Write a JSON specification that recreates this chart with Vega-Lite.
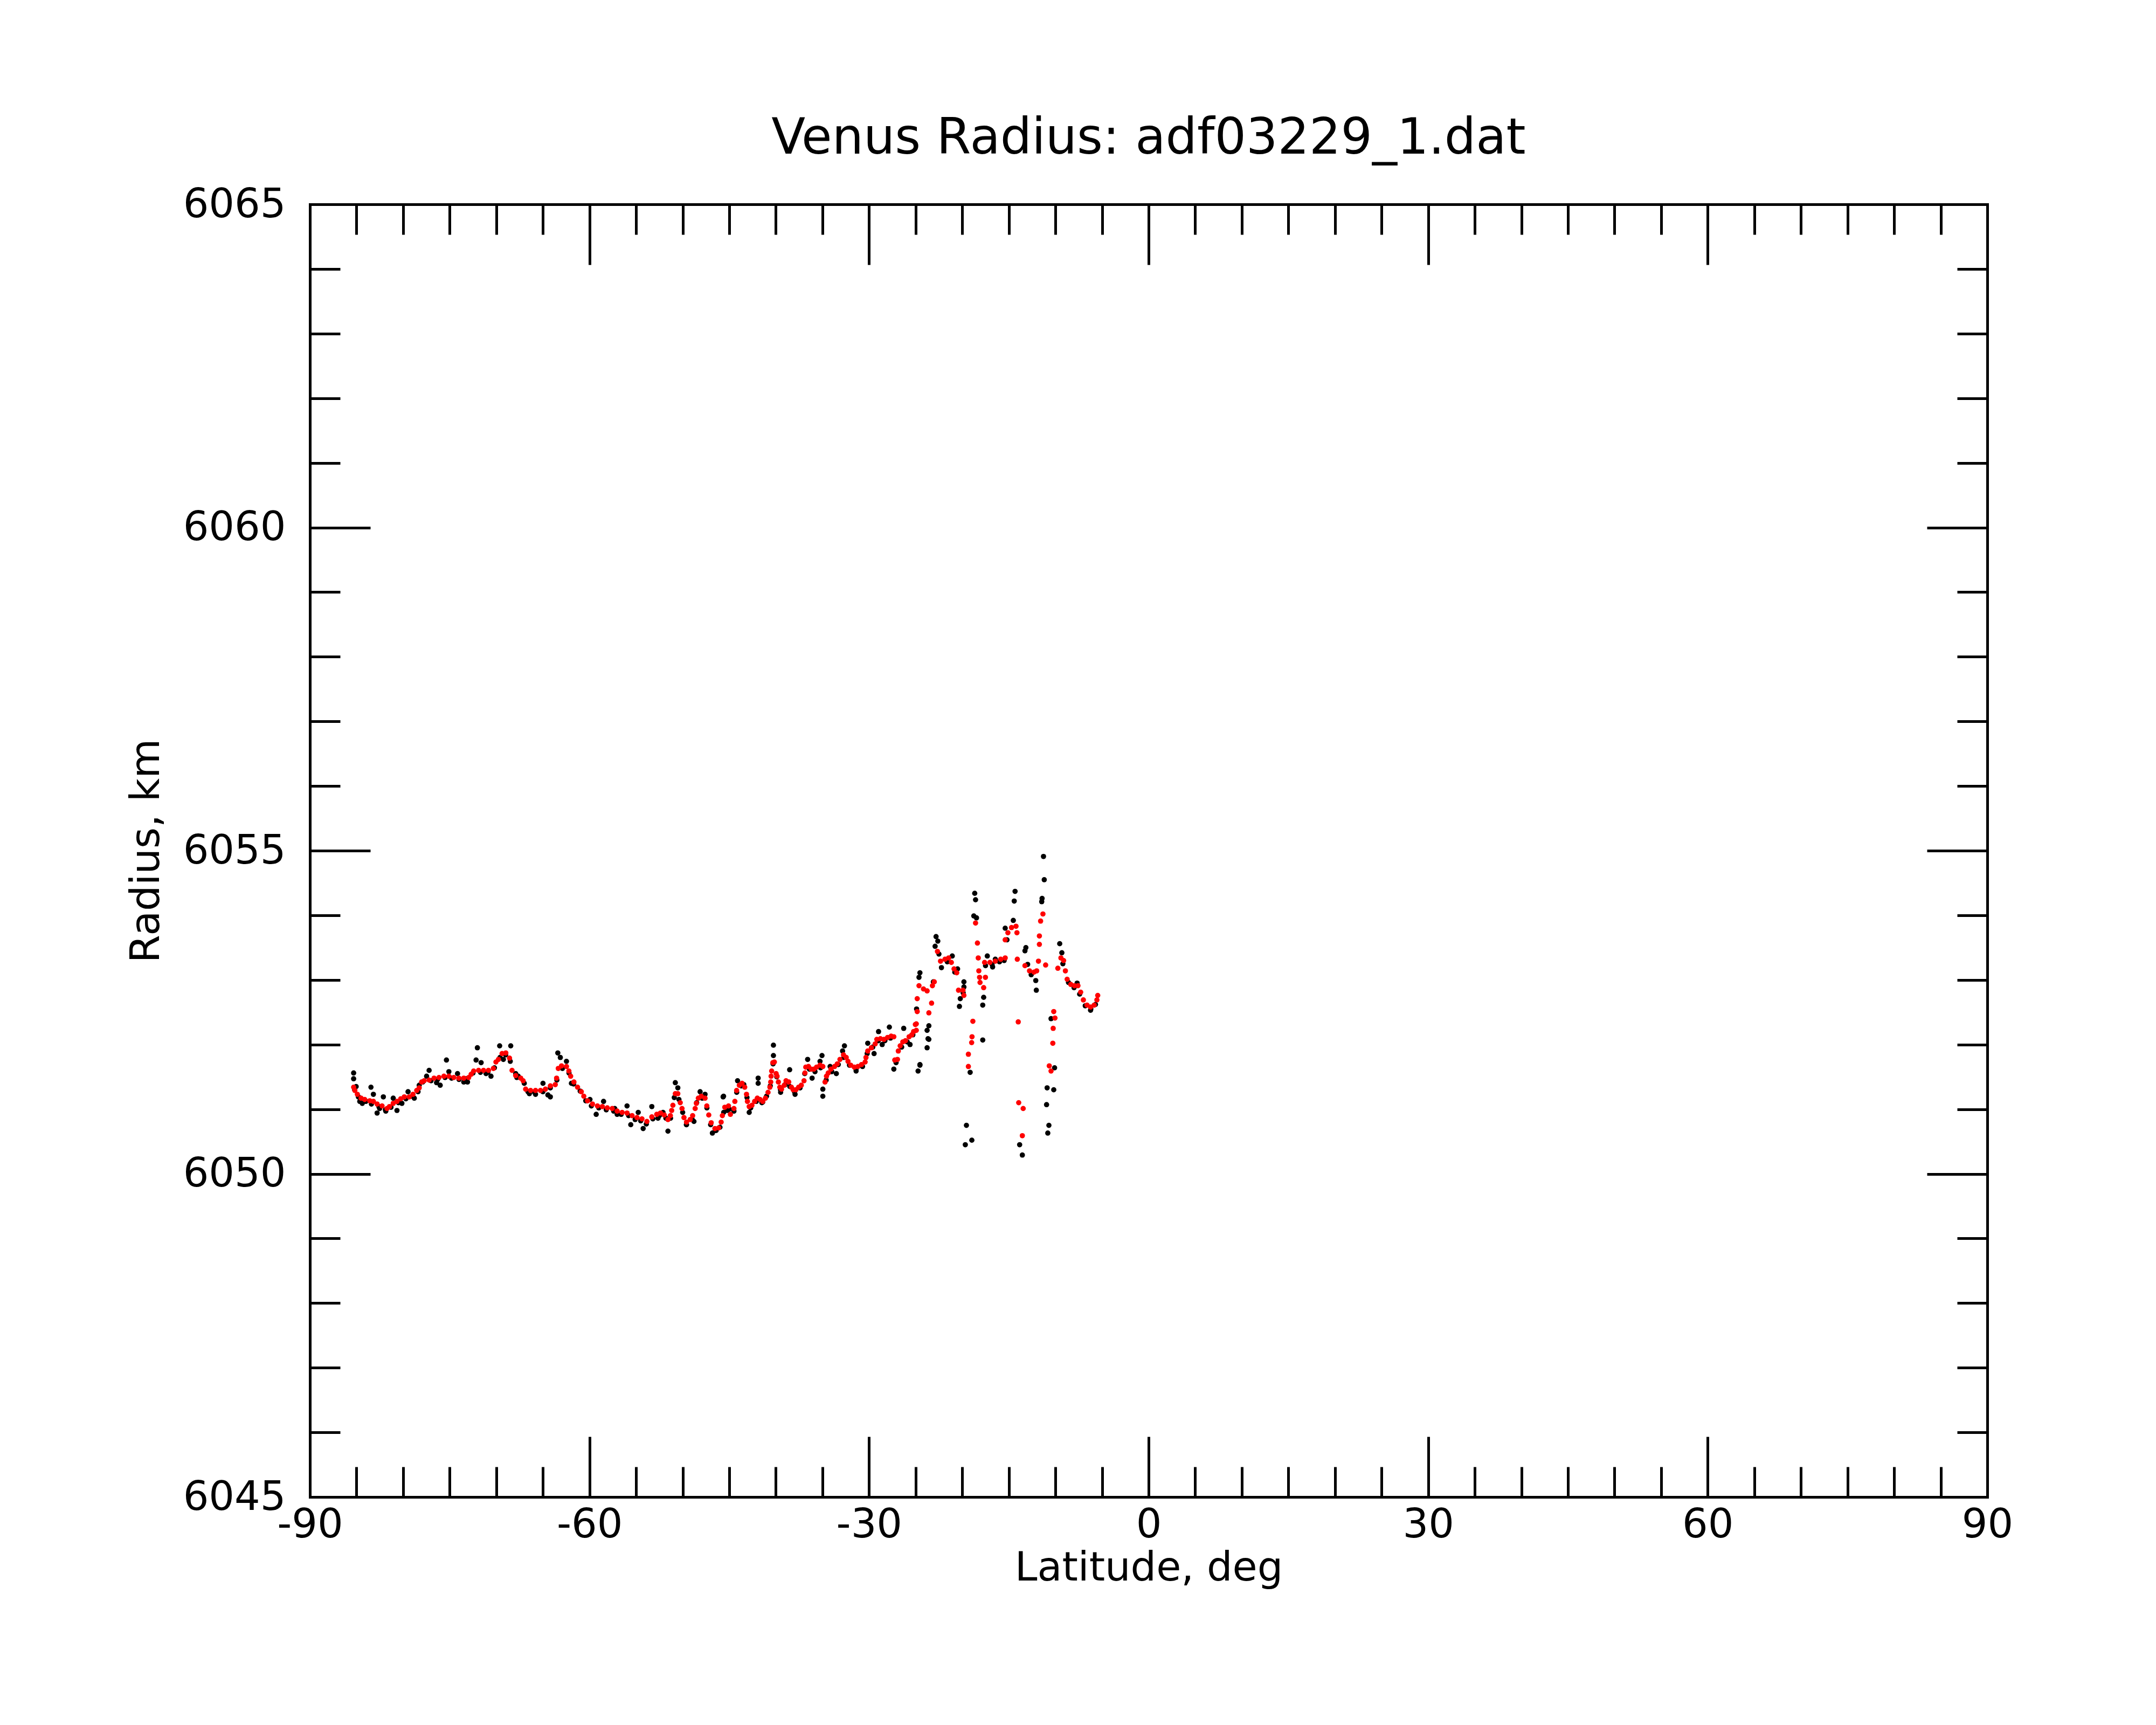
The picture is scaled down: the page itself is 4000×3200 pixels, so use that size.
{
  "$schema": "https://vega.github.io/schema/vega-lite/v6.json",
  "width": 3112,
  "height": 2398,
  "autosize": {"type": "none"},
  "padding": {"left": 575, "top": 379, "right": 313, "bottom": 423},
  "background": "white",
  "title": {
    "text": "Venus Radius: adf03229_1.dat",
    "font": "DejaVu Sans",
    "fontSize": 92,
    "fontWeight": "normal",
    "color": "black",
    "anchor": "middle",
    "baseline": "alphabetic",
    "offset": -35
  },
  "datasets": {
    "black": [
      {"lat": -85.31, "r": 6051.56}, {"lat": -85.31, "r": 6051.47}, {"lat": -85.2, "r": 6051.30}, {"lat": -85.04, "r": 6051.35},
      {"lat": -84.8, "r": 6051.19}, {"lat": -84.65, "r": 6051.12}, {"lat": -84.38, "r": 6051.09}, {"lat": -84.0, "r": 6051.12},
      {"lat": -83.45, "r": 6051.34}, {"lat": -83.4, "r": 6051.08}, {"lat": -83.19, "r": 6051.23}, {"lat": -82.79, "r": 6050.94},
      {"lat": -82.6, "r": 6051.04}, {"lat": -82.52, "r": 6051.01}, {"lat": -82.12, "r": 6051.19}, {"lat": -81.9, "r": 6050.99},
      {"lat": -81.86, "r": 6050.97}, {"lat": -81.3, "r": 6051.03}, {"lat": -81.06, "r": 6051.17}, {"lat": -80.66, "r": 6050.98},
      {"lat": -80.5, "r": 6051.10}, {"lat": -80.13, "r": 6051.09}, {"lat": -79.7, "r": 6051.16}, {"lat": -79.47, "r": 6051.27},
      {"lat": -79.0, "r": 6051.20}, {"lat": -78.8, "r": 6051.17}, {"lat": -78.4, "r": 6051.27}, {"lat": -78.27, "r": 6051.37},
      {"lat": -77.9, "r": 6051.42}, {"lat": -77.48, "r": 6051.51}, {"lat": -77.21, "r": 6051.60}, {"lat": -77.0, "r": 6051.44},
      {"lat": -76.41, "r": 6051.41}, {"lat": -76.3, "r": 6051.46}, {"lat": -76.02, "r": 6051.37}, {"lat": -75.5, "r": 6051.49},
      {"lat": -75.35, "r": 6051.76}, {"lat": -75.09, "r": 6051.58}, {"lat": -74.8, "r": 6051.48}, {"lat": -74.16, "r": 6051.55},
      {"lat": -74.0, "r": 6051.46}, {"lat": -73.49, "r": 6051.42}, {"lat": -73.2, "r": 6051.47}, {"lat": -73.09, "r": 6051.42},
      {"lat": -72.5, "r": 6051.56}, {"lat": -72.17, "r": 6051.76}, {"lat": -72.03, "r": 6051.95}, {"lat": -71.7, "r": 6051.57},
      {"lat": -71.63, "r": 6051.72}, {"lat": -71.1, "r": 6051.55}, {"lat": -70.9, "r": 6051.57}, {"lat": -70.57, "r": 6051.51},
      {"lat": -70.2, "r": 6051.64}, {"lat": -69.64, "r": 6051.98}, {"lat": -69.6, "r": 6051.80}, {"lat": -69.24, "r": 6051.77},
      {"lat": -69.0, "r": 6051.84}, {"lat": -68.5, "r": 6051.74}, {"lat": -68.45, "r": 6051.98}, {"lat": -67.92, "r": 6051.55},
      {"lat": -67.8, "r": 6051.49}, {"lat": -67.65, "r": 6051.51}, {"lat": -67.0, "r": 6051.40}, {"lat": -66.6, "r": 6051.27},
      {"lat": -66.45, "r": 6051.24}, {"lat": -65.9, "r": 6051.26}, {"lat": -65.79, "r": 6051.23}, {"lat": -65.0, "r": 6051.27},
      {"lat": -64.99, "r": 6051.40}, {"lat": -64.46, "r": 6051.22}, {"lat": -64.2, "r": 6051.19}, {"lat": -64.2, "r": 6051.33},
      {"lat": -63.5, "r": 6051.45}, {"lat": -63.4, "r": 6051.87}, {"lat": -63.13, "r": 6051.80}, {"lat": -62.9, "r": 6051.63},
      {"lat": -62.47, "r": 6051.74}, {"lat": -62.2, "r": 6051.56}, {"lat": -61.94, "r": 6051.40}, {"lat": -61.7, "r": 6051.39},
      {"lat": -61.0, "r": 6051.28}, {"lat": -60.4, "r": 6051.13}, {"lat": -59.95, "r": 6051.15}, {"lat": -59.8, "r": 6051.05},
      {"lat": -59.28, "r": 6050.92}, {"lat": -59.0, "r": 6051.02}, {"lat": -58.49, "r": 6051.12}, {"lat": -58.2, "r": 6050.99},
      {"lat": -57.4, "r": 6050.97}, {"lat": -57.29, "r": 6051.01}, {"lat": -57.03, "r": 6050.92}, {"lat": -56.6, "r": 6050.92},
      {"lat": -55.97, "r": 6051.05}, {"lat": -55.8, "r": 6050.90}, {"lat": -55.57, "r": 6050.76}, {"lat": -55.1, "r": 6050.84},
      {"lat": -54.77, "r": 6050.95}, {"lat": -54.5, "r": 6050.82}, {"lat": -54.24, "r": 6050.70}, {"lat": -53.9, "r": 6050.77},
      {"lat": -53.31, "r": 6051.04}, {"lat": -53.2, "r": 6050.85}, {"lat": -52.65, "r": 6050.86}, {"lat": -52.5, "r": 6050.90},
      {"lat": -52.11, "r": 6050.95}, {"lat": -51.8, "r": 6050.86}, {"lat": -51.58, "r": 6050.66}, {"lat": -51.3, "r": 6050.86},
      {"lat": -50.9, "r": 6051.18}, {"lat": -50.79, "r": 6051.41}, {"lat": -50.52, "r": 6051.33}, {"lat": -50.4, "r": 6051.15},
      {"lat": -50.0, "r": 6050.95}, {"lat": -49.6, "r": 6050.76}, {"lat": -49.59, "r": 6050.76}, {"lat": -49.0, "r": 6050.85},
      {"lat": -48.79, "r": 6050.81}, {"lat": -48.5, "r": 6051.10}, {"lat": -48.13, "r": 6051.27}, {"lat": -47.9, "r": 6051.17},
      {"lat": -47.6, "r": 6051.23}, {"lat": -47.4, "r": 6051.02}, {"lat": -47.0, "r": 6050.76}, {"lat": -46.81, "r": 6050.63},
      {"lat": -46.5, "r": 6050.67}, {"lat": -46.41, "r": 6050.67}, {"lat": -46.0, "r": 6050.72}, {"lat": -45.66, "r": 6051.19},
      {"lat": -45.61, "r": 6051.20}, {"lat": -45.6, "r": 6050.95}, {"lat": -45.21, "r": 6050.98}, {"lat": -45.0, "r": 6051.00},
      {"lat": -44.5, "r": 6050.97}, {"lat": -44.2, "r": 6051.26}, {"lat": -44.11, "r": 6051.44}, {"lat": -43.7, "r": 6051.36},
      {"lat": -43.44, "r": 6051.38}, {"lat": -43.1, "r": 6051.18}, {"lat": -42.86, "r": 6050.95}, {"lat": -42.7, "r": 6051.02},
      {"lat": -42.1, "r": 6051.12}, {"lat": -41.9, "r": 6051.48}, {"lat": -41.9, "r": 6051.40}, {"lat": -41.5, "r": 6051.10},
      {"lat": -41.41, "r": 6051.11}, {"lat": -41.0, "r": 6051.20}, {"lat": -40.6, "r": 6051.36}, {"lat": -40.3, "r": 6051.70},
      {"lat": -40.26, "r": 6051.99}, {"lat": -40.26, "r": 6051.83}, {"lat": -39.9, "r": 6051.50}, {"lat": -39.5, "r": 6051.30},
      {"lat": -39.49, "r": 6051.26}, {"lat": -39.0, "r": 6051.38}, {"lat": -38.52, "r": 6051.61}, {"lat": -38.5, "r": 6051.35},
      {"lat": -38.0, "r": 6051.27}, {"lat": -37.94, "r": 6051.23}, {"lat": -37.4, "r": 6051.33}, {"lat": -36.9, "r": 6051.55},
      {"lat": -36.59, "r": 6051.77}, {"lat": -36.4, "r": 6051.62}, {"lat": -36.11, "r": 6051.48}, {"lat": -35.8, "r": 6051.58},
      {"lat": -35.26, "r": 6051.74}, {"lat": -35.2, "r": 6051.64}, {"lat": -35.05, "r": 6051.83}, {"lat": -34.96, "r": 6051.31},
      {"lat": -34.96, "r": 6051.20}, {"lat": -34.6, "r": 6051.45}, {"lat": -34.18, "r": 6051.66}, {"lat": -34.0, "r": 6051.58},
      {"lat": -33.51, "r": 6051.55}, {"lat": -33.3, "r": 6051.69}, {"lat": -32.84, "r": 6051.90}, {"lat": -32.7, "r": 6051.80},
      {"lat": -32.64, "r": 6051.98}, {"lat": -32.1, "r": 6051.68}, {"lat": -31.4, "r": 6051.62}, {"lat": -31.39, "r": 6051.59},
      {"lat": -30.7, "r": 6051.66}, {"lat": -30.2, "r": 6051.86}, {"lat": -30.14, "r": 6052.02}, {"lat": -29.6, "r": 6051.96},
      {"lat": -29.46, "r": 6051.86}, {"lat": -29.0, "r": 6052.06}, {"lat": -28.98, "r": 6052.20}, {"lat": -28.59, "r": 6052.00},
      {"lat": -28.3, "r": 6052.06}, {"lat": -27.82, "r": 6052.27}, {"lat": -27.7, "r": 6052.10}, {"lat": -27.34, "r": 6051.62},
      {"lat": -27.1, "r": 6051.72}, {"lat": -26.5, "r": 6051.96}, {"lat": -26.28, "r": 6052.25}, {"lat": -25.9, "r": 6052.04},
      {"lat": -25.6, "r": 6052.00}, {"lat": -25.3, "r": 6052.15}, {"lat": -24.9, "r": 6052.55}, {"lat": -24.74, "r": 6051.59},
      {"lat": -24.54, "r": 6051.68}, {"lat": -24.54, "r": 6051.69}, {"lat": -24.64, "r": 6053.04}, {"lat": -24.54, "r": 6053.11},
      {"lat": -23.77, "r": 6052.22}, {"lat": -23.67, "r": 6052.09}, {"lat": -23.77, "r": 6051.95}, {"lat": -23.58, "r": 6052.29},
      {"lat": -23.58, "r": 6052.08}, {"lat": -23.1, "r": 6052.97}, {"lat": -22.91, "r": 6053.52}, {"lat": -22.81, "r": 6053.67},
      {"lat": -22.62, "r": 6053.60}, {"lat": -22.5, "r": 6053.40}, {"lat": -22.23, "r": 6053.19}, {"lat": -21.6, "r": 6053.28},
      {"lat": -21.07, "r": 6053.37}, {"lat": -20.8, "r": 6053.12}, {"lat": -20.5, "r": 6053.17}, {"lat": -20.3, "r": 6052.59},
      {"lat": -20.21, "r": 6052.71}, {"lat": -19.9, "r": 6052.80}, {"lat": -19.82, "r": 6052.97}, {"lat": -19.82, "r": 6052.89},
      {"lat": -19.67, "r": 6050.45}, {"lat": -19.55, "r": 6050.75}, {"lat": -19.15, "r": 6051.57}, {"lat": -18.97, "r": 6050.52},
      {"lat": -18.76, "r": 6053.99}, {"lat": -18.66, "r": 6054.34}, {"lat": -18.57, "r": 6054.24}, {"lat": -18.47, "r": 6053.96},
      {"lat": -17.8, "r": 6052.61}, {"lat": -17.8, "r": 6052.07}, {"lat": -17.7, "r": 6052.73}, {"lat": -17.5, "r": 6053.22},
      {"lat": -17.31, "r": 6053.37}, {"lat": -16.8, "r": 6053.24}, {"lat": -16.74, "r": 6053.20}, {"lat": -16.45, "r": 6053.32},
      {"lat": -16.0, "r": 6053.28}, {"lat": -15.5, "r": 6053.30}, {"lat": -15.39, "r": 6053.80}, {"lat": -15.2, "r": 6053.62},
      {"lat": -14.52, "r": 6053.92}, {"lat": -14.42, "r": 6054.22}, {"lat": -14.33, "r": 6054.37}, {"lat": -13.84, "r": 6050.45},
      {"lat": -13.55, "r": 6050.29}, {"lat": -13.27, "r": 6053.45}, {"lat": -13.17, "r": 6053.50}, {"lat": -12.98, "r": 6053.24},
      {"lat": -12.6, "r": 6053.08}, {"lat": -12.11, "r": 6052.99}, {"lat": -12.05, "r": 6052.84}, {"lat": -11.47, "r": 6054.21},
      {"lat": -11.43, "r": 6054.26}, {"lat": -11.28, "r": 6054.91}, {"lat": -11.2, "r": 6054.55}, {"lat": -10.95, "r": 6051.07},
      {"lat": -10.89, "r": 6051.33}, {"lat": -10.82, "r": 6050.63}, {"lat": -10.7, "r": 6050.75}, {"lat": -10.47, "r": 6052.40},
      {"lat": -10.18, "r": 6051.30}, {"lat": -10.09, "r": 6051.64}, {"lat": -9.54, "r": 6053.56}, {"lat": -9.31, "r": 6053.42},
      {"lat": -9.2, "r": 6053.25}, {"lat": -8.6, "r": 6052.96}, {"lat": -8.0, "r": 6052.88}, {"lat": -7.67, "r": 6052.95},
      {"lat": -7.4, "r": 6052.78}, {"lat": -6.8, "r": 6052.60}, {"lat": -6.23, "r": 6052.53}, {"lat": -6.2, "r": 6052.55},
      {"lat": -5.7, "r": 6052.62}
    ],
    "red": [
      {"lat": -85.31, "r": 6051.34}, {"lat": -85.18, "r": 6051.29}, {"lat": -84.91, "r": 6051.23}, {"lat": -84.51, "r": 6051.17},
      {"lat": -84.12, "r": 6051.15}, {"lat": -83.58, "r": 6051.13}, {"lat": -83.19, "r": 6051.12}, {"lat": -82.79, "r": 6051.08},
      {"lat": -82.26, "r": 6051.05}, {"lat": -81.73, "r": 6051.01}, {"lat": -81.46, "r": 6051.04}, {"lat": -81.06, "r": 6051.09},
      {"lat": -80.66, "r": 6051.12}, {"lat": -80.26, "r": 6051.16}, {"lat": -79.87, "r": 6051.19}, {"lat": -79.34, "r": 6051.19},
      {"lat": -78.94, "r": 6051.23}, {"lat": -78.54, "r": 6051.29}, {"lat": -78.27, "r": 6051.33}, {"lat": -78.01, "r": 6051.42},
      {"lat": -77.74, "r": 6051.44}, {"lat": -77.21, "r": 6051.45}, {"lat": -76.68, "r": 6051.48}, {"lat": -76.15, "r": 6051.49},
      {"lat": -75.62, "r": 6051.51}, {"lat": -75.09, "r": 6051.51}, {"lat": -74.56, "r": 6051.49}, {"lat": -74.02, "r": 6051.48},
      {"lat": -73.49, "r": 6051.48}, {"lat": -72.96, "r": 6051.49}, {"lat": -72.7, "r": 6051.54}, {"lat": -72.43, "r": 6051.59},
      {"lat": -71.9, "r": 6051.60}, {"lat": -71.37, "r": 6051.60}, {"lat": -70.84, "r": 6051.60}, {"lat": -70.31, "r": 6051.63},
      {"lat": -70.04, "r": 6051.73}, {"lat": -69.77, "r": 6051.77}, {"lat": -69.38, "r": 6051.86}, {"lat": -68.98, "r": 6051.87},
      {"lat": -68.58, "r": 6051.79}, {"lat": -68.31, "r": 6051.60}, {"lat": -67.92, "r": 6051.52}, {"lat": -67.38, "r": 6051.48},
      {"lat": -67.12, "r": 6051.44}, {"lat": -66.85, "r": 6051.31}, {"lat": -66.32, "r": 6051.29}, {"lat": -65.79, "r": 6051.29},
      {"lat": -65.26, "r": 6051.29}, {"lat": -64.73, "r": 6051.31}, {"lat": -64.2, "r": 6051.36}, {"lat": -63.67, "r": 6051.38},
      {"lat": -63.53, "r": 6051.48}, {"lat": -63.35, "r": 6051.63}, {"lat": -63.0, "r": 6051.67}, {"lat": -62.47, "r": 6051.66},
      {"lat": -62.21, "r": 6051.59}, {"lat": -62.02, "r": 6051.51}, {"lat": -61.67, "r": 6051.42}, {"lat": -61.28, "r": 6051.34},
      {"lat": -60.88, "r": 6051.27}, {"lat": -60.61, "r": 6051.20}, {"lat": -60.21, "r": 6051.13}, {"lat": -59.68, "r": 6051.08},
      {"lat": -59.15, "r": 6051.05}, {"lat": -58.62, "r": 6051.04}, {"lat": -58.09, "r": 6051.02}, {"lat": -57.56, "r": 6051.01},
      {"lat": -57.03, "r": 6050.97}, {"lat": -56.5, "r": 6050.95}, {"lat": -55.97, "r": 6050.94}, {"lat": -55.43, "r": 6050.90},
      {"lat": -54.9, "r": 6050.87}, {"lat": -54.37, "r": 6050.85}, {"lat": -53.84, "r": 6050.81}, {"lat": -53.31, "r": 6050.88},
      {"lat": -52.78, "r": 6050.92}, {"lat": -52.38, "r": 6050.94}, {"lat": -51.98, "r": 6050.91}, {"lat": -51.58, "r": 6050.84},
      {"lat": -51.32, "r": 6050.90}, {"lat": -51.18, "r": 6050.98}, {"lat": -51.05, "r": 6051.06}, {"lat": -50.79, "r": 6051.24},
      {"lat": -50.52, "r": 6051.24}, {"lat": -50.26, "r": 6051.10}, {"lat": -50.07, "r": 6051.01}, {"lat": -49.86, "r": 6050.87},
      {"lat": -49.59, "r": 6050.80}, {"lat": -49.19, "r": 6050.84}, {"lat": -48.93, "r": 6050.90}, {"lat": -48.66, "r": 6051.01},
      {"lat": -48.53, "r": 6051.09}, {"lat": -48.32, "r": 6051.17}, {"lat": -48.0, "r": 6051.20}, {"lat": -47.6, "r": 6051.17},
      {"lat": -47.41, "r": 6051.05}, {"lat": -47.2, "r": 6050.91}, {"lat": -46.94, "r": 6050.79}, {"lat": -46.54, "r": 6050.70},
      {"lat": -46.14, "r": 6050.71}, {"lat": -45.87, "r": 6050.80}, {"lat": -45.74, "r": 6050.90}, {"lat": -45.48, "r": 6051.03},
      {"lat": -45.08, "r": 6051.05}, {"lat": -44.88, "r": 6050.92}, {"lat": -44.5, "r": 6051.01}, {"lat": -44.4, "r": 6051.12},
      {"lat": -44.21, "r": 6051.29}, {"lat": -43.92, "r": 6051.37}, {"lat": -43.63, "r": 6051.40}, {"lat": -43.34, "r": 6051.34},
      {"lat": -43.15, "r": 6051.23}, {"lat": -43.05, "r": 6051.12}, {"lat": -42.86, "r": 6051.04}, {"lat": -42.57, "r": 6051.06},
      {"lat": -42.28, "r": 6051.12}, {"lat": -41.99, "r": 6051.17}, {"lat": -41.7, "r": 6051.15}, {"lat": -41.41, "r": 6051.12},
      {"lat": -41.12, "r": 6051.17}, {"lat": -40.84, "r": 6051.26}, {"lat": -40.64, "r": 6051.34}, {"lat": -40.55, "r": 6051.42},
      {"lat": -40.51, "r": 6051.51}, {"lat": -40.45, "r": 6051.59}, {"lat": -40.32, "r": 6051.72}, {"lat": -40.16, "r": 6051.73},
      {"lat": -39.97, "r": 6051.55}, {"lat": -39.87, "r": 6051.51}, {"lat": -39.73, "r": 6051.42}, {"lat": -39.58, "r": 6051.34},
      {"lat": -39.39, "r": 6051.31}, {"lat": -39.1, "r": 6051.37}, {"lat": -38.91, "r": 6051.44}, {"lat": -38.62, "r": 6051.42},
      {"lat": -38.33, "r": 6051.34}, {"lat": -38.14, "r": 6051.30}, {"lat": -37.85, "r": 6051.30}, {"lat": -37.56, "r": 6051.34},
      {"lat": -37.27, "r": 6051.37}, {"lat": -36.98, "r": 6051.44}, {"lat": -36.88, "r": 6051.56}, {"lat": -36.79, "r": 6051.65},
      {"lat": -36.5, "r": 6051.66}, {"lat": -36.21, "r": 6051.62}, {"lat": -35.92, "r": 6051.62}, {"lat": -35.63, "r": 6051.65},
      {"lat": -35.26, "r": 6051.68}, {"lat": -34.96, "r": 6051.66}, {"lat": -34.72, "r": 6051.42}, {"lat": -34.57, "r": 6051.51},
      {"lat": -34.38, "r": 6051.56}, {"lat": -34.09, "r": 6051.62}, {"lat": -33.7, "r": 6051.66}, {"lat": -33.41, "r": 6051.70},
      {"lat": -33.12, "r": 6051.77}, {"lat": -32.74, "r": 6051.84}, {"lat": -32.45, "r": 6051.80}, {"lat": -32.26, "r": 6051.74},
      {"lat": -31.97, "r": 6051.68}, {"lat": -31.58, "r": 6051.65}, {"lat": -31.2, "r": 6051.66}, {"lat": -30.81, "r": 6051.69},
      {"lat": -30.42, "r": 6051.73}, {"lat": -30.33, "r": 6051.80}, {"lat": -30.14, "r": 6051.90}, {"lat": -29.75, "r": 6051.95},
      {"lat": -29.34, "r": 6052.01}, {"lat": -29.17, "r": 6052.08}, {"lat": -28.78, "r": 6052.09}, {"lat": -28.4, "r": 6052.08},
      {"lat": -28.01, "r": 6052.11}, {"lat": -27.63, "r": 6052.13}, {"lat": -27.34, "r": 6052.12}, {"lat": -27.24, "r": 6051.76},
      {"lat": -26.95, "r": 6051.77}, {"lat": -26.86, "r": 6051.90}, {"lat": -26.66, "r": 6051.98}, {"lat": -26.38, "r": 6052.04},
      {"lat": -26.09, "r": 6052.06}, {"lat": -25.7, "r": 6052.12}, {"lat": -25.41, "r": 6052.15}, {"lat": -25.22, "r": 6052.20},
      {"lat": -25.03, "r": 6052.31}, {"lat": -24.93, "r": 6052.22}, {"lat": -24.93, "r": 6052.32}, {"lat": -24.83, "r": 6052.51},
      {"lat": -24.83, "r": 6052.71}, {"lat": -24.64, "r": 6052.91}, {"lat": -24.16, "r": 6052.86}, {"lat": -23.77, "r": 6052.83},
      {"lat": -23.58, "r": 6052.49}, {"lat": -23.29, "r": 6052.64}, {"lat": -23.2, "r": 6052.91}, {"lat": -23.0, "r": 6052.97},
      {"lat": -22.66, "r": 6053.44}, {"lat": -22.33, "r": 6053.29}, {"lat": -21.85, "r": 6053.32}, {"lat": -21.46, "r": 6053.34},
      {"lat": -21.17, "r": 6053.27}, {"lat": -20.88, "r": 6053.17}, {"lat": -20.59, "r": 6053.11}, {"lat": -20.4, "r": 6052.84},
      {"lat": -19.92, "r": 6052.84}, {"lat": -19.82, "r": 6052.76}, {"lat": -19.34, "r": 6051.85}, {"lat": -19.34, "r": 6051.66},
      {"lat": -18.99, "r": 6052.03}, {"lat": -18.95, "r": 6052.12}, {"lat": -18.86, "r": 6052.36}, {"lat": -18.57, "r": 6053.88},
      {"lat": -18.37, "r": 6053.57}, {"lat": -18.28, "r": 6053.34}, {"lat": -18.22, "r": 6053.14}, {"lat": -18.14, "r": 6053.04},
      {"lat": -18.09, "r": 6052.96}, {"lat": -17.7, "r": 6052.88}, {"lat": -17.6, "r": 6053.27}, {"lat": -17.51, "r": 6053.04},
      {"lat": -17.03, "r": 6053.27}, {"lat": -16.45, "r": 6053.29}, {"lat": -15.87, "r": 6053.32}, {"lat": -15.39, "r": 6053.34},
      {"lat": -15.39, "r": 6053.62}, {"lat": -15.1, "r": 6053.73}, {"lat": -14.71, "r": 6053.81}, {"lat": -14.23, "r": 6053.83},
      {"lat": -14.13, "r": 6053.73}, {"lat": -14.09, "r": 6053.32}, {"lat": -13.99, "r": 6052.35}, {"lat": -13.94, "r": 6051.10},
      {"lat": -13.46, "r": 6051.01}, {"lat": -13.55, "r": 6050.59}, {"lat": -13.27, "r": 6053.22}, {"lat": -12.78, "r": 6053.14},
      {"lat": -12.3, "r": 6053.12}, {"lat": -12.01, "r": 6053.14}, {"lat": -11.82, "r": 6053.29}, {"lat": -11.72, "r": 6053.55},
      {"lat": -11.72, "r": 6053.68}, {"lat": -11.59, "r": 6053.91}, {"lat": -11.34, "r": 6054.02}, {"lat": -11.05, "r": 6053.23},
      {"lat": -10.18, "r": 6052.51}, {"lat": -10.05, "r": 6052.41}, {"lat": -10.24, "r": 6052.25}, {"lat": -10.28, "r": 6052.02},
      {"lat": -10.66, "r": 6051.67}, {"lat": -10.47, "r": 6051.59}, {"lat": -9.74, "r": 6053.18}, {"lat": -9.41, "r": 6053.34},
      {"lat": -9.12, "r": 6053.30}, {"lat": -8.93, "r": 6053.14}, {"lat": -8.74, "r": 6053.01}, {"lat": -8.35, "r": 6052.93},
      {"lat": -7.96, "r": 6052.91}, {"lat": -7.58, "r": 6052.91}, {"lat": -7.29, "r": 6052.81}, {"lat": -7.0, "r": 6052.69},
      {"lat": -6.61, "r": 6052.61}, {"lat": -6.23, "r": 6052.58}, {"lat": -5.84, "r": 6052.61}, {"lat": -5.55, "r": 6052.69},
      {"lat": -5.46, "r": 6052.76}
    ]
  },
  "layer": [
    {
      "data": {"name": "black"},
      "mark": {"type": "circle", "size": 95, "color": "black", "opacity": 1},
      "encoding": {
        "x": {
          "field": "lat", "type": "quantitative",
          "scale": {"domain": [-90, 90], "nice": false, "zero": false},
          "axis": {
            "orient": "bottom",
            "values": [-90, -85, -80, -75, -70, -65, -60, -55, -50, -45, -40, -35, -30, -25, -20, -15, -10, -5, 0, 5, 10, 15, 20, 25, 30, 35, 40, 45, 50, 55, 60, 65, 70, 75, 80, 85, 90],
            "tickSize": {"condition": {"test": "datum.value % 30 === 0", "value": -112}, "value": -56},
            "labelExpr": "datum.value % 30 === 0 ? '' + datum.value : ''",
            "labelPadding": {"condition": {"test": "datum.value % 30 === 0", "value": 127}, "value": 71},
            "title": "Latitude, deg",
            "titlePadding": 6
          }
        },
        "y": {
          "field": "r", "type": "quantitative",
          "scale": {"domain": [6045, 6065], "nice": false, "zero": false},
          "axis": {
            "orient": "left",
            "values": [6045, 6046, 6047, 6048, 6049, 6050, 6051, 6052, 6053, 6054, 6055, 6056, 6057, 6058, 6059, 6060, 6061, 6062, 6063, 6064, 6065],
            "tickSize": {"condition": {"test": "datum.value % 5 === 0", "value": -112}, "value": -56},
            "labelExpr": "datum.value % 5 === 0 ? '' + datum.value : ''",
            "labelPadding": {"condition": {"test": "datum.value % 5 === 0", "value": 157}, "value": 101},
            "title": "Radius, km",
            "titlePadding": 65
          }
        }
      }
    },
    {
      "data": {"name": "red"},
      "mark": {"type": "circle", "size": 95, "color": "#ff0000", "opacity": 1},
      "encoding": {
        "x": {
          "field": "lat", "type": "quantitative",
          "scale": {"domain": [-90, 90], "nice": false, "zero": false},
          "axis": {
            "orient": "top",
            "values": [-90, -85, -80, -75, -70, -65, -60, -55, -50, -45, -40, -35, -30, -25, -20, -15, -10, -5, 0, 5, 10, 15, 20, 25, 30, 35, 40, 45, 50, 55, 60, 65, 70, 75, 80, 85, 90],
            "tickSize": {"condition": {"test": "datum.value % 30 === 0", "value": -112}, "value": -56},
            "labels": false,
            "title": null
          }
        },
        "y": {
          "field": "r", "type": "quantitative",
          "scale": {"domain": [6045, 6065], "nice": false, "zero": false},
          "axis": {
            "orient": "right",
            "values": [6045, 6046, 6047, 6048, 6049, 6050, 6051, 6052, 6053, 6054, 6055, 6056, 6057, 6058, 6059, 6060, 6061, 6062, 6063, 6064, 6065],
            "tickSize": {"condition": {"test": "datum.value % 5 === 0", "value": -112}, "value": -56},
            "labels": false,
            "title": null
          }
        }
      }
    }
  ],
  "resolve": {"axis": {"x": "independent", "y": "independent"}},
  "config": {
    "view": {"stroke": null},
    "font": "DejaVu Sans",
    "axis": {
      "grid": false,
      "domainColor": "black",
      "domainWidth": 5,
      "domainCap": "square",
      "tickColor": "black",
      "tickWidth": 5,
      "labelFont": "DejaVu Sans",
      "labelFontSize": 75,
      "labelColor": "black",
      "labelLimit": 0,
      "labelFlush": false,
      "labelOverlap": false,
      "labelBound": false,
      "titleFont": "DejaVu Sans",
      "titleFontSize": 75,
      "titleFontWeight": "normal",
      "titleColor": "black"
    }
  }
}
